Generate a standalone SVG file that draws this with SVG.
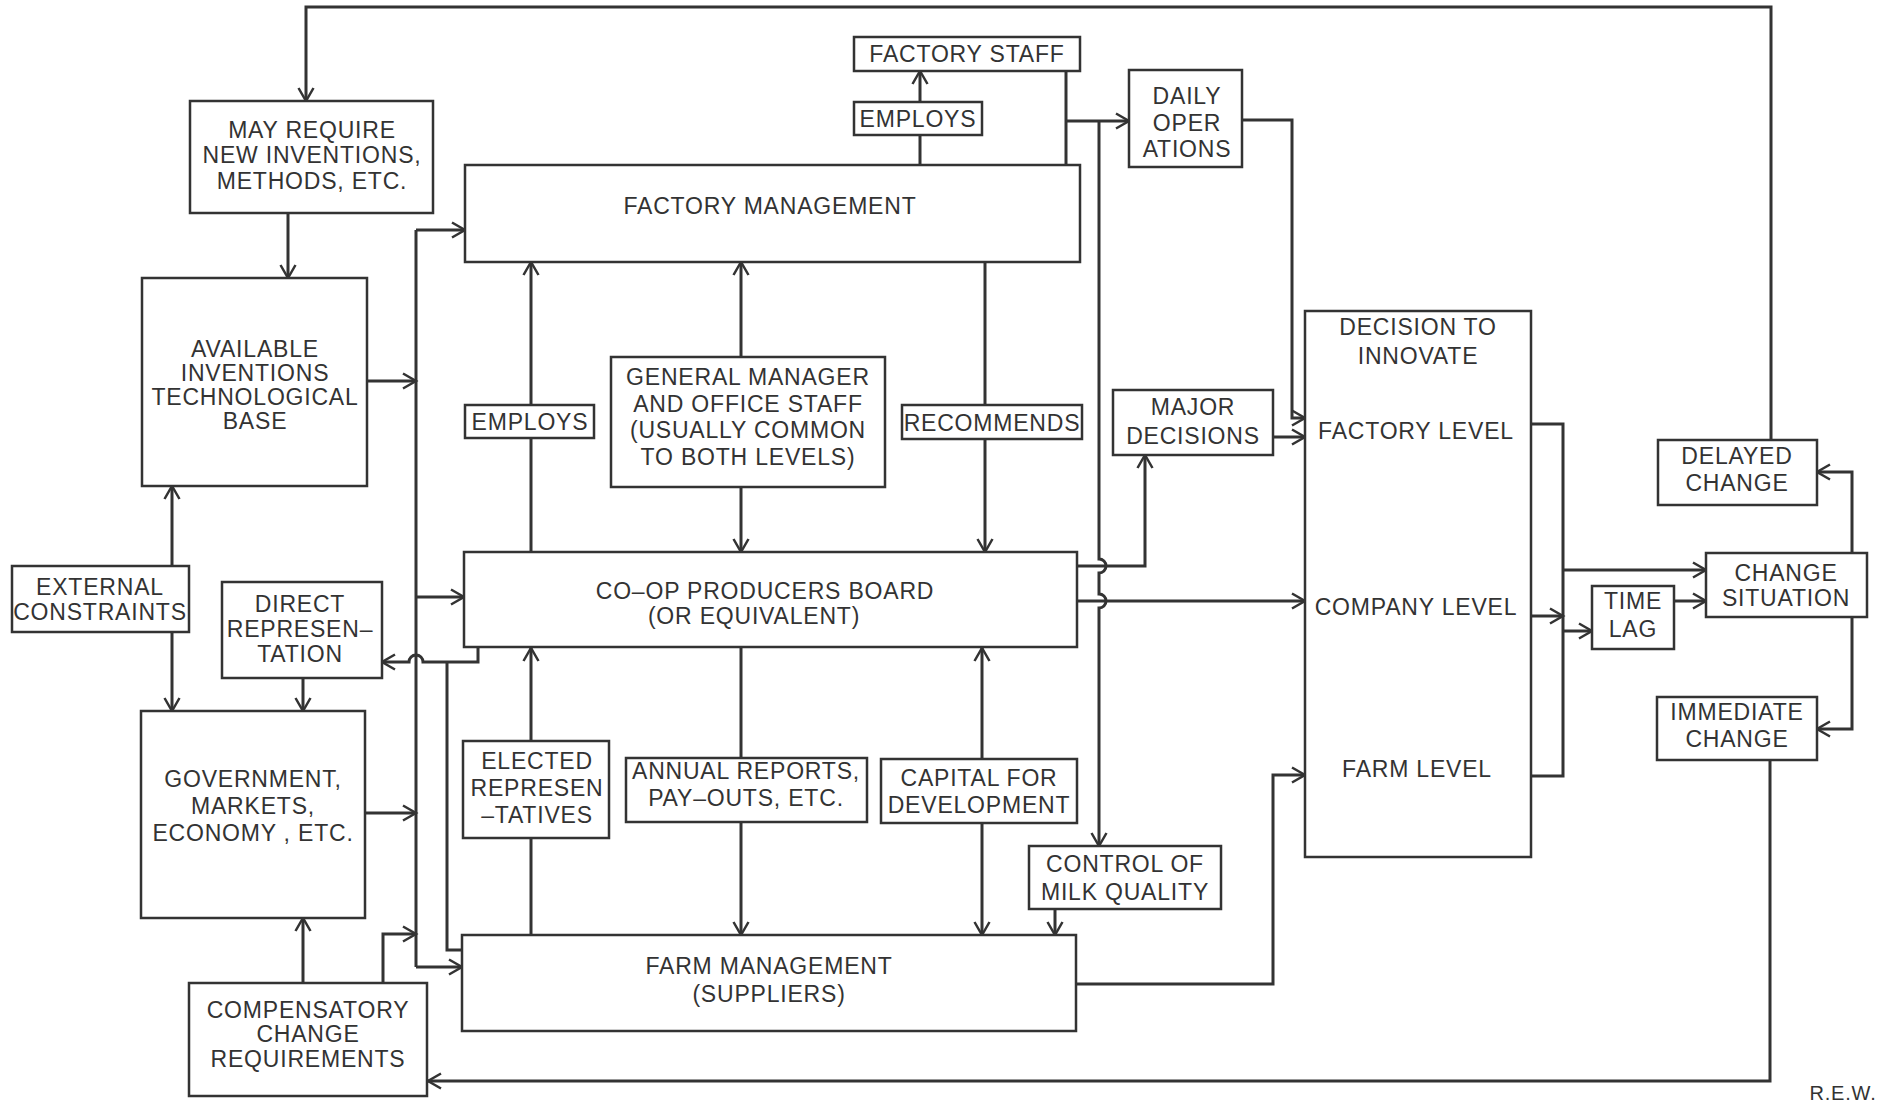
<svg xmlns="http://www.w3.org/2000/svg" width="1884" height="1105" viewBox="0 0 1884 1105">
<style>
.b{fill:#fff;stroke:#333;stroke-width:2.5}
text{font-family:"Liberation Sans",Arial,sans-serif;font-size:23px;letter-spacing:0.8px;fill:#333;text-anchor:middle}
.c path{fill:none;stroke:#333;stroke-width:3}
.c .a{marker-end:url(#arr)}
</style>
<defs>
<marker id="arr" markerUnits="userSpaceOnUse" markerWidth="20" markerHeight="20" refX="14" refY="8" orient="auto" viewBox="0 0 20 16" overflow="visible">
<path d="M1,0.5 L14,8 L1,15.5" fill="none" stroke="#333" stroke-width="2.5"/>
</marker>
</defs>
<rect width="1884" height="1105" fill="#fff"/>
<g class="c" id="connectors">
<path class="a" d="M1771,440 V7 H306 V101"/>
<path class="a" d="M288,213 V278"/>
<path class="a" d="M367,381 H416"/>
<path d="M416,230 V967"/>
<path class="a" d="M416,230 H465"/>
<path class="a" d="M416,597 H464"/>
<path class="a" d="M416,967 H462"/>
<path class="a" d="M365,813 H416"/>
<path class="a" d="M383,983 V934 H416"/>
<path class="a" d="M172,566 V486"/>
<path class="a" d="M172,632 V711"/>
<path class="a" d="M303,678 V711"/>
<path class="a" d="M303,983 V918"/>
<path class="a" d="M478,647 V662 H423 A7,7 0 0 0 409,662 H382"/>
<path d="M447,662 V950 H462"/>
<path d="M531,552 V438"/>
<path class="a" d="M531,405 V262"/>
<path d="M531,935 V838"/>
<path class="a" d="M531,741 V648"/>
<path class="a" d="M741,357 V262"/>
<path class="a" d="M741,487 V552"/>
<path d="M985,262 V405"/>
<path class="a" d="M985,439 V552"/>
<path d="M741,647 V758"/>
<path class="a" d="M741,822 V935"/>
<path class="a" d="M982,759 V648"/>
<path class="a" d="M982,823 V935"/>
<path d="M920,165 V135"/>
<path class="a" d="M920,102 V71"/>
<path d="M1066,71 V165"/>
<path class="a" d="M1066,121 H1129"/>
<path class="a" d="M1099,121 V559 A7,7 0 0 1 1099,573 V594 A7,7 0 0 1 1099,608 V846"/>
<path class="a" d="M1055,909 V935"/>
<path class="a" d="M1077,566 H1145 V455"/>
<path class="a" d="M1077,601 H1305"/>
<path class="a" d="M1242,120 H1292 V418 H1305"/>
<path class="a" d="M1273,437 H1305"/>
<path class="a" d="M1076,984 H1273 V775 H1305"/>
<path d="M1531,424 H1563 V776 H1531"/>
<path class="a" d="M1531,616 H1563"/>
<path class="a" d="M1563,570 H1706"/>
<path class="a" d="M1563,631 H1592"/>
<path class="a" d="M1674,601 H1706"/>
<path class="a" d="M1852,553 V472 H1817"/>
<path class="a" d="M1852,617 V729 H1817"/>
<path class="a" d="M1770,760 V1081 H428"/>
</g>
<g id="may-require"><rect class="b" x="190" y="101" width="243" height="112"/><text x="312" y="138">MAY REQUIRE</text><text x="312" y="163">NEW INVENTIONS,</text><text x="312" y="189">METHODS, ETC.</text></g>
<g id="available"><rect class="b" x="142" y="278" width="225" height="208"/><text x="255" y="357">AVAILABLE</text><text x="255" y="381">INVENTIONS</text><text x="255" y="405">TECHNOLOGICAL</text><text x="255" y="429">BASE</text></g>
<g id="factory-management"><rect class="b" x="465" y="165" width="615" height="97"/><text x="770" y="214">FACTORY MANAGEMENT</text></g>
<g id="factory-staff"><rect class="b" x="854" y="37" width="226" height="34"/><text x="967" y="62">FACTORY STAFF</text></g>
<g id="employs-top"><rect class="b" x="854" y="102" width="128" height="33"/><text x="918" y="127">EMPLOYS</text></g>
<g id="daily-operations"><rect class="b" x="1129" y="70" width="113" height="97"/><text x="1187" y="104">DAILY</text><text x="1187" y="131">OPER</text><text x="1187" y="157">ATIONS</text></g>
<g id="employs-left"><rect class="b" x="465" y="405" width="129" height="33"/><text x="530" y="430">EMPLOYS</text></g>
<g id="general-manager"><rect class="b" x="611" y="357" width="274" height="130"/><text x="748" y="385">GENERAL MANAGER</text><text x="748" y="412">AND OFFICE STAFF</text><text x="748" y="438">(USUALLY COMMON</text><text x="748" y="465">TO BOTH LEVELS)</text></g>
<g id="recommends"><rect class="b" x="902" y="405" width="180" height="34"/><text x="992" y="431">RECOMMENDS</text></g>
<g id="major-decisions"><rect class="b" x="1113" y="390" width="160" height="65"/><text x="1193" y="415">MAJOR</text><text x="1193" y="444">DECISIONS</text></g>
<g id="decision"><rect class="b" x="1305" y="311" width="226" height="546"/><text x="1418" y="335">DECISION TO</text><text x="1418" y="364">INNOVATE</text><text x="1416" y="439">FACTORY LEVEL</text><text x="1416" y="615">COMPANY LEVEL</text><text x="1417" y="777">FARM LEVEL</text></g>
<g id="delayed-change"><rect class="b" x="1658" y="440" width="159" height="65"/><text x="1737" y="464">DELAYED</text><text x="1737" y="491">CHANGE</text></g>
<g id="change-situation"><rect class="b" x="1706" y="553" width="161" height="64"/><text x="1786" y="581">CHANGE</text><text x="1786" y="606">SITUATION</text></g>
<g id="time-lag"><rect class="b" x="1592" y="586" width="82" height="63"/><text x="1633" y="609">TIME</text><text x="1633" y="637">LAG</text></g>
<g id="immediate-change"><rect class="b" x="1657" y="697" width="160" height="63"/><text x="1737" y="720">IMMEDIATE</text><text x="1737" y="747">CHANGE</text></g>
<g id="external-constraints"><rect class="b" x="12" y="566" width="177" height="66"/><text x="100" y="595">EXTERNAL</text><text x="100" y="620">CONSTRAINTS</text></g>
<g id="direct-representation"><rect class="b" x="222" y="582" width="160" height="96"/><text x="300" y="612">DIRECT</text><text x="300" y="637">REPRESEN–</text><text x="300" y="662">TATION</text></g>
<g id="coop-board"><rect class="b" x="464" y="552" width="613" height="95"/><text x="765" y="599">CO–OP PRODUCERS BOARD</text><text x="754" y="624">(OR EQUIVALENT)</text></g>
<g id="government"><rect class="b" x="141" y="711" width="224" height="207"/><text x="253" y="787">GOVERNMENT,</text><text x="253" y="814">MARKETS,</text><text x="253" y="841">ECONOMY , ETC.</text></g>
<g id="elected"><rect class="b" x="463" y="741" width="146" height="97"/><text x="537" y="769">ELECTED</text><text x="537" y="796">REPRESEN</text><text x="537" y="823">–TATIVES</text></g>
<g id="annual-reports"><rect class="b" x="626" y="758" width="241" height="64"/><text x="746" y="779">ANNUAL REPORTS,</text><text x="746" y="806">PAY–OUTS, ETC.</text></g>
<g id="capital"><rect class="b" x="881" y="759" width="196" height="64"/><text x="979" y="786">CAPITAL FOR</text><text x="979" y="813">DEVELOPMENT</text></g>
<g id="milk-quality"><rect class="b" x="1029" y="846" width="192" height="63"/><text x="1125" y="872">CONTROL OF</text><text x="1125" y="900">MILK QUALITY</text></g>
<g id="farm-management"><rect class="b" x="462" y="935" width="614" height="96"/><text x="769" y="974">FARM MANAGEMENT</text><text x="769" y="1002">(SUPPLIERS)</text></g>
<g id="compensatory"><rect class="b" x="189" y="983" width="238" height="113"/><text x="308" y="1018">COMPENSATORY</text><text x="308" y="1042">CHANGE</text><text x="308" y="1067">REQUIREMENTS</text></g>
<text x="1843" y="1100" style="font-size:20px">R.E.W.</text>
</svg>
